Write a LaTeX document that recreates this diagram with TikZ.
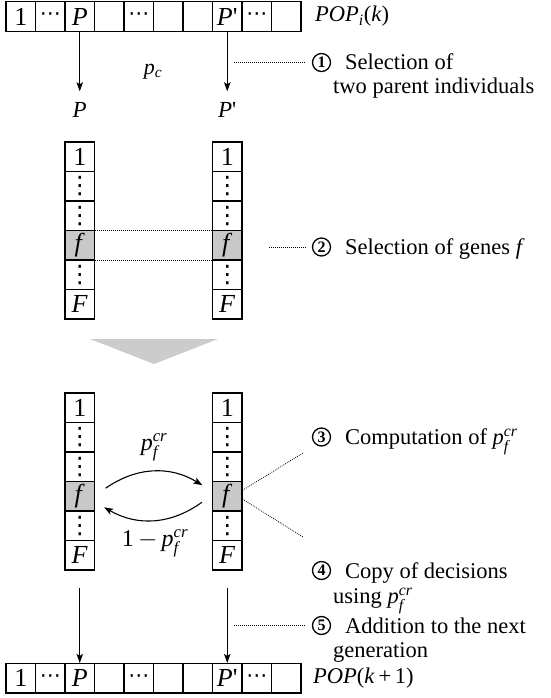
\documentclass[tikz,border=0pt]{standalone}
\usepackage{amsmath}
\usepackage{fontspec}
\setmainfont{Liberation Serif}
\newfontfamily\djv{DejaVu Sans}
\usetikzlibrary{arrows.meta}
\definecolor{fgray}{RGB}{200,200,200}
\definecolor{tgray}{RGB}{204,204,204}
\newcommand\vdotz{{\djv\fontsize{24}{24}\selectfont ⋮}}
\newcommand\hdotz{{\djv\fontsize{21}{21}\selectfont ⋯}}
\newcommand\pfcr{\textit{p}$^{\textit{cr}}_{\textit{f}}$}
\begin{document}
\begin{tikzpicture}[x=1pt,y=1pt,
  cell/.style={draw, line width=1.2pt, minimum width=29.5pt, minimum height=29.5pt, inner sep=0pt, font=\fontsize{26}{26}\selectfont},
  fcell/.style={cell, fill=fgray},
  lab/.style={font=\fontsize{22.5}{24}\selectfont, inner sep=0pt, anchor=base west},
  plab/.style={font=\fontsize{23}{23}\selectfont, inner sep=0pt},
  alab/.style={font=\fontsize{24}{24}\selectfont, inner sep=0pt},
  num/.style={circle, draw, line width=1.3pt, minimum size=18pt, inner sep=0pt, font=\fontsize{16}{16}\selectfont\bfseries},
  dotl/.style={line width=0.8pt, dash pattern=on 0.8pt off 1.2pt},
  arr/.style={line width=1.1pt, -{Stealth[length=9pt,width=6.5pt,inset=2pt]}}
]
\useasboundingbox (0,0) rectangle (550,-698);

% top row
\foreach \i/\lbl in {1/1,2/\hdotz,3/\textit{P},4/{},5/\hdotz,6/{},7/{},8/{\textit{P}\textquotesingle},9/\hdotz,10/{}}
  \node[cell] (t\i) at ({29.5*\i-8.75},-16.5) {\lbl};
\node[lab, anchor=west] (popk) at (315,-16.5) {\textit{POP}$_{\textit{i}}$(\textit{k})};

% selected parents
\node[plab] (lP) at (79.75,-110) {\textit{P}};
\node[plab] (lQ) at (227.25,-110) {\textit{P}\textquotesingle};
\draw[arr, shorten >=11pt] (t3.south) -- (lP.north);
\draw[arr, shorten >=11pt] (t8.south) -- (lQ.north);
\node[font=\fontsize{22}{22}\selectfont, inner sep=0pt] (pc) at (153,-72) {\textit{p}$_{\textit{c}}$};

\coordinate (d1s) at (234,-62.5);
\node[num] (n1) at (321.5,-62.5) {1};
\draw[dotl, shorten >=6pt] (d1s) -- (n1.west);
\node[lab] (l1a) at (345,-70) {Selection of};
\node[lab] (l1b) at (333,-94) {two parent individuals};

% upper columns
\foreach \i/\lbl in {1/1,2/\vdotz,3/\vdotz,5/\vdotz,6/\textit{F}} {
  \node[cell] (a\i) at (79.75,{-156.75-29.5*(\i-1)}) {\lbl};
  \node[cell] (b\i) at (227.25,{-156.75-29.5*(\i-1)}) {\lbl};
}
\node[fcell] (a4) at (79.75,{-156.75-29.5*3}) {\textit{f}};
\node[fcell] (b4) at (227.25,{-156.75-29.5*3}) {\textit{f}};
\draw[dotl] (a4.north east) -- (b4.north west);
\draw[dotl] (a4.south east) -- (b4.south west);

\coordinate (d2s) at (269,-247);
\node[num] (n2) at (321.5,-247) {2};
\draw[dotl, shorten >=6pt] (d2s) -- (n2.west);
\node[lab] (l2) at (345,-254.5) {Selection of genes \textit{f}};

% big grey arrow
\fill[tgray] (90,-339) -- (218,-339) -- (154,-364) -- cycle;

% lower columns
\foreach \i/\lbl in {1/1,2/\vdotz,3/\vdotz,5/\vdotz,6/\textit{F}} {
  \node[cell] (c\i) at (79.75,{-407.75-29.5*(\i-1)}) {\lbl};
  \node[cell] (d\i) at (227.25,{-407.75-29.5*(\i-1)}) {\lbl};
}
\node[fcell] (c4) at (79.75,{-407.75-29.5*3}) {\textit{f}};
\node[fcell] (d4) at (227.25,{-407.75-29.5*3}) {\textit{f}};

\draw[arr] ([xshift=10.5pt,yshift=8pt]c4.east) to[bend left=33] ([xshift=-9.5pt,yshift=11pt]d4.west);
\draw[arr] ([xshift=-10pt,yshift=-6pt]d4.west) to[bend left=33] ([xshift=9pt,yshift=-11pt]c4.east);
\node[alab] (pf1) at (154,-447) {\pfcr};
\node[alab] (pf2) at (155,-543) {$\textrm{1}\mskip3mu{-}\mskip3mu\textit{p}^{\textit{cr}}_{\textit{f}}$};

\coordinate (e3) at (303,-453);
\coordinate (e4) at (303,-537);
\draw[dotl] ([yshift=6pt]d4.east) -- (e3);
\draw[dotl] ([yshift=-3pt]d4.east) -- (e4);
\node[num] (n3) at (321.5,-437) {3};
\node[lab] (l3) at (345,-444) {Computation of \pfcr};
\node[num] (n4) at (321.5,-570.5) {4};
\node[lab] (l4a) at (345,-578) {Copy of decisions};
\node[lab] (l4b) at (333,-603) {using \pfcr};

% bottom row
\foreach \i/\lbl in {1/1,2/\hdotz,3/\textit{P},4/{},5/\hdotz,6/{},7/{},8/{\textit{P}\textquotesingle},9/\hdotz,10/{}}
  \node[cell] (r\i) at ({29.5*\i-8.75},-678.25) {\lbl};
\node[lab, anchor=west] (popk1) at (313,-678) {\textit{POP}(\textit{k}\,+\,1)};

\draw[arr] ([yshift=-17pt]c6.south) -- (r3.north);
\draw[arr] ([yshift=-17pt]d6.south) -- (r8.north);

\coordinate (d5s) at (234,-625.5);
\node[num] (n5) at (321.5,-625.5) {5};
\draw[dotl, shorten >=6pt] (d5s) -- (n5.west);
\node[lab] (l5a) at (345,-633) {Addition to the next};
\node[lab] (l5b) at (333,-657) {generation};
\end{tikzpicture}
\end{document}
